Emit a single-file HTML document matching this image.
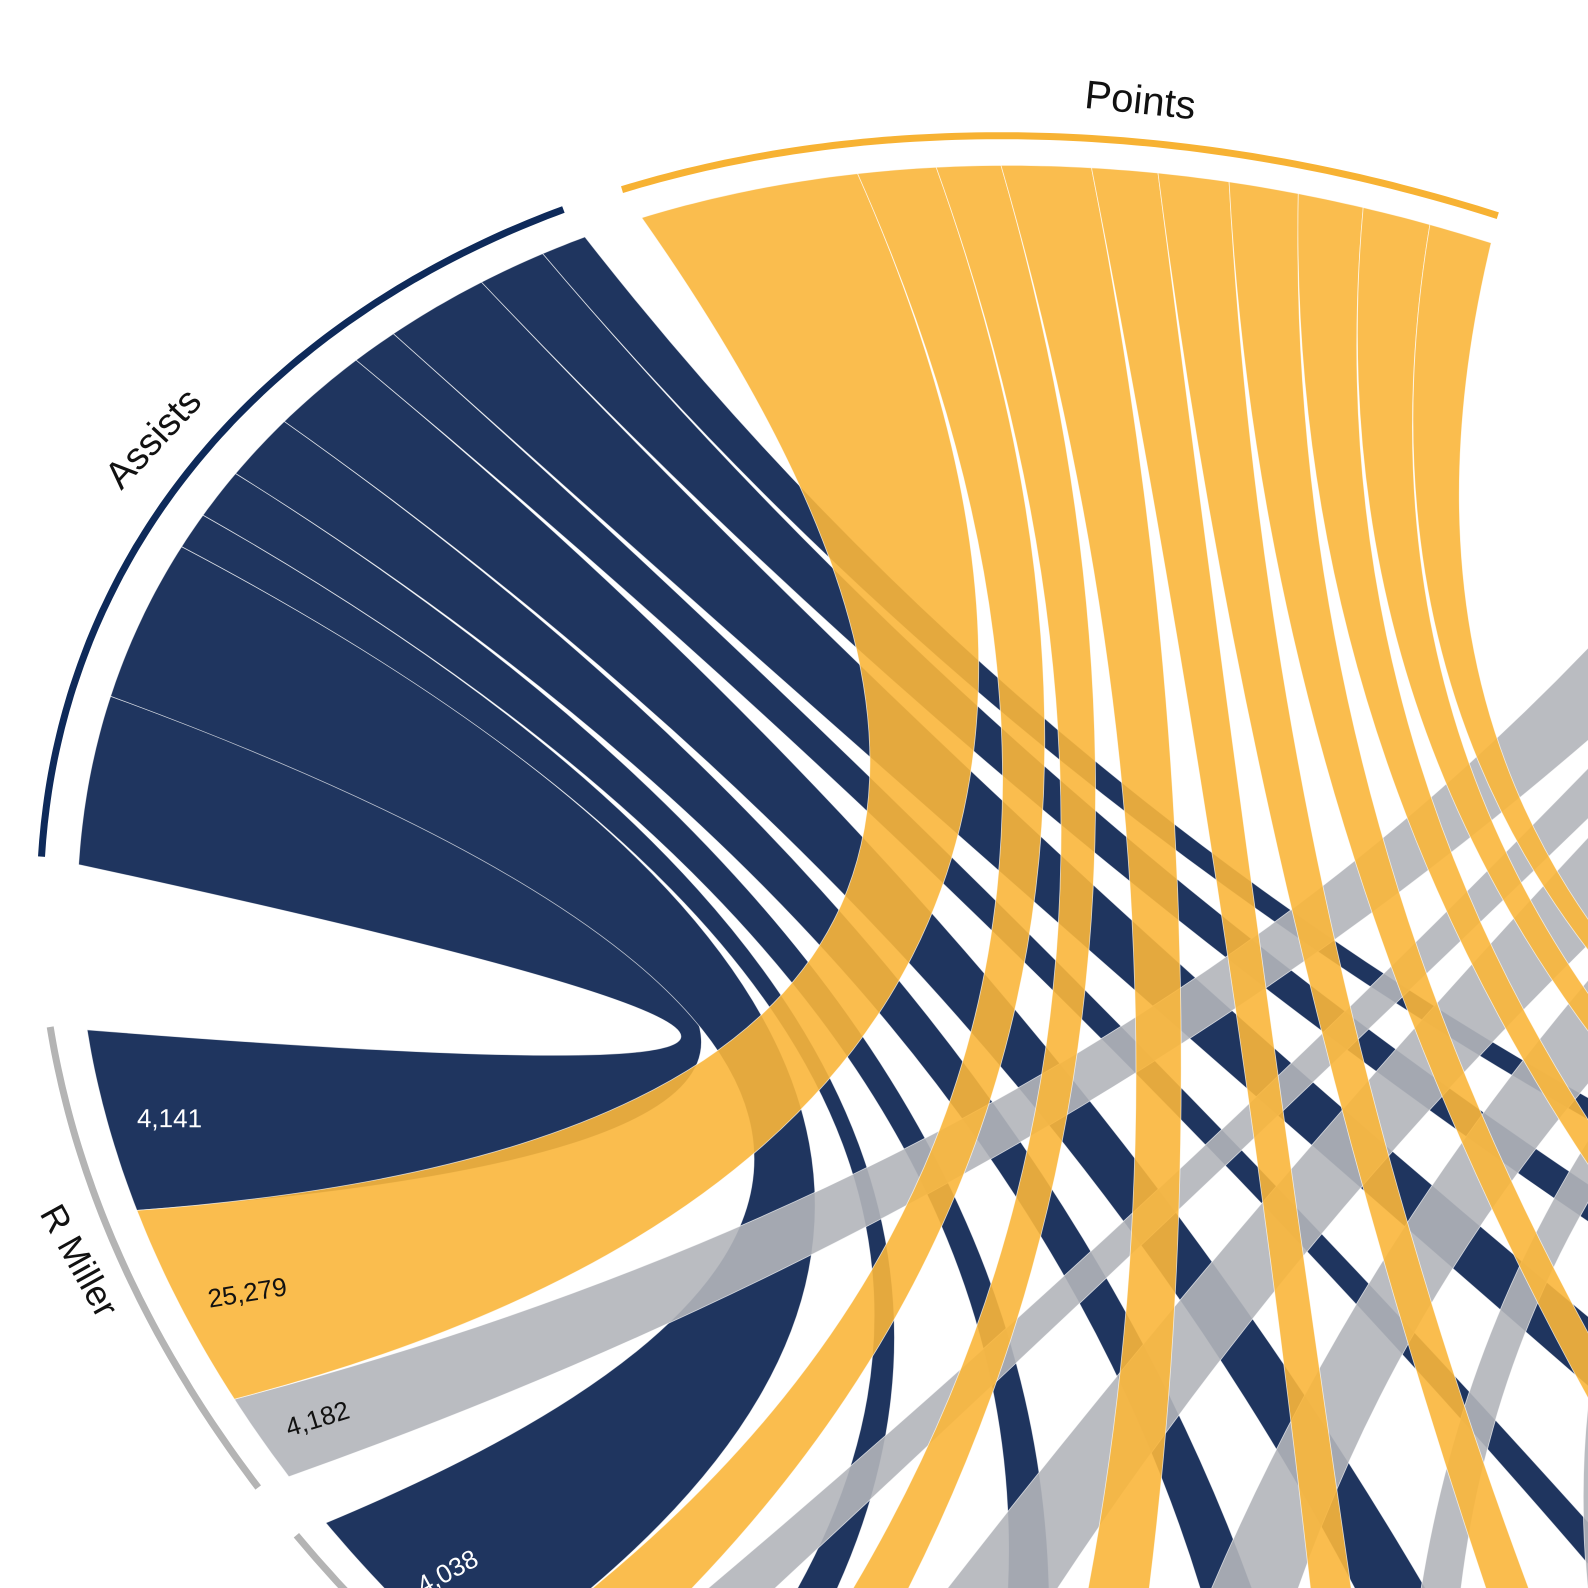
<!DOCTYPE html>
<html><head><meta charset="utf-8"><style>
html,body{margin:0;padding:0;background:#fff;width:1588px;height:1588px;overflow:hidden;}
svg{display:block;}
text{font-family:"Liberation Sans",sans-serif;}
</style></head><body>
<svg id="chart" width="1588" height="1588" viewBox="0 0 1588 1588" xmlns="http://www.w3.org/2000/svg" style="overflow:hidden">
<g id="ribbons"></g>
<g id="arcs"></g>
<g id="labels"></g>
<text x="1140" y="103" font-size="40" text-anchor="middle" dominant-baseline="middle" transform="rotate(6 1140 103)" fill="#111">Points</text>
<text x="155" y="440" font-size="38" text-anchor="middle" dominant-baseline="middle" transform="rotate(-47 155 440)" fill="#111">Assists</text>
<text x="77" y="1262" font-size="36" text-anchor="middle" dominant-baseline="middle" transform="rotate(61 77 1262)" fill="#111">R Miller</text>
</svg>
<script>
const players = ["R Miller","V Fleming","R Smits","J O'Neal","D Granger","M Daniels","R Brown","G McGinnis","B Knight","D Davis"];
const assists = [4141, 4038, 920, 1265, 1685, 2185, 1035, 2260, 1455, 960];
const points = [25279, 8680, 7030, 9670, 7030, 7470, 7250, 6810, 7030, 6500];
const rebounds = [4182, 2349, 5277, 5254, 2800, 7643, 4900, 4900, 3000, 5320];

const CX = 1279, CY = 1125, RX = 1284, RY = 930, ROT = 22.4 * Math.PI / 180;
const cr = Math.cos(ROT), sr = Math.sin(ROT);
const kA = 0.002607, kP = 0.000455, kR = 0.00117;
const RIB = 0.97, ARC = 1.0, GAP = 3.0, CAT_GAP = 16;
const assistsStart = 166.1, pointsStart = -138.65, playersStart = 156.05;

function P(r, deg) {
  const t = deg * Math.PI / 180;
  const u = r * Math.cos(t) * RX, v = r * Math.sin(t) * RY;
  return [CX + u * cr - v * sr, CY + u * sr + v * cr];
}
function arcPts(r, a0, a1) {
  const n = Math.max(4, Math.ceil(Math.abs(a1 - a0) * 2));
  const pts = [];
  for (let i = 0; i <= n; i++) pts.push(P(r, a0 + (a1 - a0) * i / n));
  return pts;
}
const f = p => p[0].toFixed(1) + "," + p[1].toFixed(1);

function ribbonPath(c0, c1, p0, p1) {
  const a = arcPts(RIB, c0, c1), b = arcPts(RIB, p0, p1);
  let d = "M" + f(a[0]);
  a.slice(1).forEach(p => d += "L" + f(p));
  d += "Q" + CX + "," + CY + " " + f(b[0]);
  b.slice(1).forEach(p => d += "L" + f(p));
  d += "Q" + CX + "," + CY + " " + f(a[0]) + "Z";
  return d;
}
const NS = "http://www.w3.org/2000/svg";
const ribG = document.getElementById("ribbons");
const arcG = document.getElementById("arcs");
const labG = document.getElementById("labels");

const cats = [
  {name: "assists", vals: assists, k: kA, start: assistsStart, color: "#1f355f", op: 1, arc: "#0e2a5a", txt: "#fff"},
  {name: "points", vals: points, k: kP, start: pointsStart, color: "#f9b63b", op: 0.9, arc: "#f7b233", txt: "#111"},
  {name: "rebounds", vals: rebounds, k: kR, start: 0, color: "#b2b5ba", op: 0.9, arc: "#a9acb0", txt: "#111"}
];
const pointsSum = points.reduce((s, v) => s + v, 0);
cats[2].start = pointsStart + pointsSum * kP + CAT_GAP;

let pCursor = playersStart;
const playerBands = players.map((name, i) => {
  const bands = [];
  const start = pCursor;
  cats.forEach(c => {
    const w = c.vals[i] * c.k;
    bands.push([pCursor - w, pCursor]);
    pCursor -= w;
  });
  const end = pCursor;
  pCursor -= GAP;
  return {start, end, bands};
});

const drawOrder = [0, 2, 1];
drawOrder.forEach(ci => {
  const c = cats[ci];
  let cur = c.start;
  c.vals.forEach((v, i) => {
    const w = v * c.k;
    const pb = playerBands[i].bands[ci];
    const path = document.createElementNS(NS, "path");
    path.setAttribute("d", ribbonPath(cur, cur + w, pb[0], pb[1]));
    path.setAttribute("fill", c.color);
    path.setAttribute("fill-opacity", c.op);
    path.setAttribute("stroke", "#fff");
    path.setAttribute("stroke-width", "0.8");
    path.setAttribute("stroke-opacity", "0.7");
    
    
    ribG.appendChild(path);
    cur += w;
  });
  const a = arcPts(ARC, c.start, cur);
  const arc = document.createElementNS(NS, "polyline");
  arc.setAttribute("points", a.map(f).join(" "));
  arc.setAttribute("fill", "none");
  arc.setAttribute("stroke", c.arc);
  arc.setAttribute("stroke-width", "7");
  
  
  arcG.appendChild(arc);
});

playerBands.forEach((pb, i) => {
  const a = arcPts(ARC, pb.end, pb.start);
  const arc = document.createElementNS(NS, "polyline");
  arc.setAttribute("points", a.map(f).join(" "));
  arc.setAttribute("fill", "none");
  arc.setAttribute("stroke", "#b4b4b4");
  arc.setAttribute("stroke-width", "7");
  
  
  arcG.appendChild(arc);
  pb.bands.forEach((b, ci) => {
    const mid = (b[0] + b[1]) / 2;
    const p = P(0.945, mid);
    const ang = Math.atan2(CY - p[1], CX - p[0]) * 180 / Math.PI;
    const t = document.createElementNS(NS, "text");
    t.setAttribute("x", p[0].toFixed(1));
    t.setAttribute("y", p[1].toFixed(1));
    t.setAttribute("font-size", "26");
    t.setAttribute("dominant-baseline", "middle");
    t.setAttribute("fill", cats[ci].txt);
    t.setAttribute("transform", "rotate(" + ang.toFixed(1) + " " + p[0].toFixed(1) + " " + p[1].toFixed(1) + ")");
    t.textContent = cats[ci].vals[i].toLocaleString("en-US");
    
    
    labG.appendChild(t);
  });
});
</script>
</body></html>
